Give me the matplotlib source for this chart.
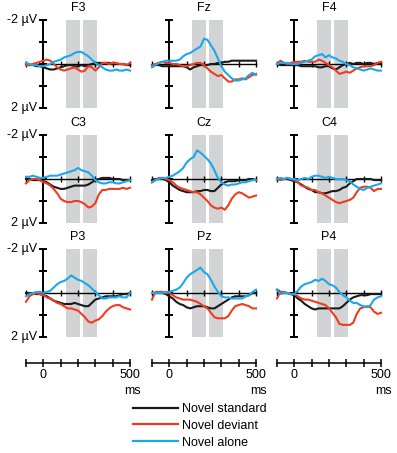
import numpy as np
import matplotlib
matplotlib.use("Agg")
import matplotlib.pyplot as plt

plt.rcParams['font.family'] = ['Liberation Sans', 'DejaVu Sans']
plt.rcParams['font.size'] = 9

# time axis (ms)
times = np.arange(-100, 501, 20)

# amplitudes in microvolts (positive is drawn downward)
f3_std = [0.0, 0.05, 0.05, 0.1, 0.1, 0.15, 0.2, 0.25, 0.25, 0.2, 0.15, 0.1, 0.05, 0.05, 0.1, 0.1,
          0.05, 0.1, 0.05, 0.0, -0.05, -0.05, -0.05, -0.05, -0.05, 0.0, 0.0, 0.0, 0.0, 0.05, 0.05]
f3_dev = [0.05, 0.05, 0.0, -0.05, -0.1, -0.15, -0.2, -0.15, 0.0, 0.15, 0.25, 0.3, 0.25, 0.2, 0.15, 0.25,
          0.35, 0.3, 0.1, 0.15, 0.3, 0.15, -0.05, -0.05, 0.0, -0.05, -0.05, 0.0, 0.0, 0.05, -0.05]
f3_alone = [-0.05, 0.0, 0.05, 0.05, 0.1, 0.1, 0.05, 0.0, -0.1, -0.15, -0.2, -0.3, -0.35, -0.4, -0.5, -0.55,
            -0.55, -0.45, -0.35, -0.2, -0.05, 0.05, 0.15, 0.25, 0.3, 0.3, 0.25, 0.3, 0.3, 0.25, 0.3]

fz_std = [0.05, 0.05, 0.05, 0.1, 0.1, 0.1, 0.1, 0.1, 0.1, 0.1, 0.15, 0.25, 0.15, 0.1, 0.05, 0.05,
          0.05, 0.0, 0.0, -0.05, -0.05, -0.1, -0.1, -0.15, -0.15, -0.15, -0.15, -0.15, -0.15, -0.15, -0.15]
fz_dev = [0.05, 0.0, -0.05, -0.1, -0.05, -0.05, 0.0, 0.0, 0.05, 0.1, 0.1, 0.05, 0.0, -0.05, -0.05, 0.05,
          0.2, 0.35, 0.45, 0.55, 0.5, 0.65, 0.8, 0.8, 0.7, 0.7, 0.65, 0.7, 0.6, 0.5, 0.45]
fz_alone = [0.15, 0.05, -0.05, -0.1, -0.15, -0.15, -0.15, -0.15, -0.2, -0.35, -0.45, -0.5, -0.6, -0.7, -0.8, -1.15,
            -1.1, -0.85, -0.6, -0.25, 0.1, 0.35, 0.5, 0.65, 0.75, 0.75, 0.7, 0.65, 0.5, 0.4, 0.5]

f4_std = [0.0, 0.05, 0.05, 0.05, 0.05, 0.05, 0.05, 0.1, 0.1, 0.1, 0.1, 0.1, 0.15, 0.15, 0.1, 0.1,
          0.2, 0.25, 0.15, 0.05, 0.0, -0.05, 0.0, -0.05, -0.05, 0.0, -0.05, -0.05, 0.0, -0.05, -0.05]
f4_dev = [0.0, -0.15, -0.05, 0.0, -0.05, -0.1, -0.1, -0.1, -0.15, -0.1, -0.1, -0.1, -0.2, -0.15, -0.05, 0.05,
          0.15, 0.3, 0.45, 0.4, 0.35, 0.4, 0.3, 0.2, 0.15, 0.1, 0.1, 0.1, 0.05, -0.05, -0.1]
f4_alone = [0.0, -0.05, -0.05, -0.05, 0.0, 0.0, 0.0, -0.05, -0.1, -0.15, -0.2, -0.35, -0.4, -0.45, -0.3, -0.4,
            -0.3, -0.25, -0.15, -0.1, 0.0, 0.05, 0.15, 0.2, 0.25, 0.3, 0.25, 0.2, 0.25, 0.3, 0.3]

c3_std = [0.0, 0.0, 0.05, 0.05, 0.05, 0.1, 0.15, 0.25, 0.35, 0.4, 0.45, 0.45, 0.4, 0.35, 0.3, 0.3,
          0.3, 0.3, 0.25, 0.15, 0.05, 0.0, -0.05, -0.05, -0.05, 0.0, 0.0, 0.0, 0.05, 0.05, 0.05]
c3_dev = [0.2, 0.05, 0.0, 0.0, 0.05, 0.15, 0.2, 0.3, 0.45, 0.65, 0.9, 1.0, 1.05, 1.05, 1.0, 1.0,
          1.05, 1.15, 1.3, 1.25, 1.1, 0.7, 0.5, 0.5, 0.45, 0.45, 0.45, 0.45, 0.4, 0.45, 0.4]
c3_alone = [-0.1, -0.1, -0.15, -0.1, -0.05, -0.05, -0.1, -0.15, -0.15, -0.15, -0.2, -0.25, -0.3, -0.35, -0.4, -0.5,
            -0.4, -0.35, -0.3, -0.15, 0.05, 0.15, 0.2, 0.2, 0.15, 0.15, 0.2, 0.2, 0.15, 0.1, 0.05]

cz_std = [0.05, 0.0, 0.0, 0.0, 0.05, 0.15, 0.3, 0.4, 0.5, 0.55, 0.6, 0.6, 0.6, 0.55, 0.55, 0.5,
          0.5, 0.55, 0.55, 0.4, 0.25, 0.15, 0.1, 0.1, 0.1, 0.05, 0.05, 0.05, 0.0, 0.0, 0.05]
cz_dev = [0.15, 0.05, -0.05, -0.05, 0.0, 0.05, 0.15, 0.3, 0.4, 0.45, 0.5, 0.55, 0.6, 0.6, 0.7, 0.85,
          1.0, 1.2, 1.3, 1.35, 1.3, 1.4, 1.2, 0.9, 0.7, 0.6, 0.65, 0.75, 0.85, 0.8, 0.75]
cz_alone = [0.15, 0.05, 0.0, -0.05, -0.05, -0.1, -0.15, -0.25, -0.35, -0.5, -0.75, -0.9, -1.0, -1.3, -1.2, -1.05,
            -0.9, -0.7, -0.4, -0.05, 0.15, 0.25, 0.3, 0.25, 0.25, 0.2, 0.15, 0.15, 0.1, 0.05, 0.05]

c4_std = [0.0, 0.0, 0.0, 0.0, 0.05, 0.1, 0.15, 0.25, 0.35, 0.45, 0.5, 0.6, 0.6, 0.65, 0.65, 0.6,
          0.55, 0.55, 0.5, 0.4, 0.35, 0.2, 0.1, 0.0, 0.0, 0.0, 0.0, 0.0, 0.05, 0.05, 0.05]
c4_dev = [0.0, 0.05, 0.0, -0.05, 0.0, 0.05, 0.15, 0.3, 0.35, 0.4, 0.5, 0.5, 0.6, 0.65, 0.75, 0.85,
          0.95, 1.05, 1.1, 1.05, 1.0, 0.95, 0.85, 0.6, 0.4, 0.35, 0.35, 0.4, 0.55, 0.45, 0.45]
c4_alone = [0.0, -0.05, 0.0, -0.05, 0.0, 0.0, 0.05, 0.0, -0.05, 0.0, -0.1, -0.15, -0.15, -0.1, -0.05, -0.1,
            -0.05, 0.0, 0.0, 0.0, 0.05, 0.1, 0.25, 0.35, 0.45, 0.5, 0.4, 0.35, 0.3, 0.25, 0.2]

p3_std = [0.0, 0.0, 0.0, 0.05, 0.05, 0.1, 0.15, 0.25, 0.35, 0.4, 0.45, 0.5, 0.5, 0.5, 0.45, 0.5,
          0.55, 0.6, 0.6, 0.45, 0.3, 0.25, 0.2, 0.15, 0.15, 0.15, 0.15, 0.1, 0.05, 0.05, 0.0]
p3_dev = [0.4, 0.15, 0.05, 0.0, 0.05, 0.1, 0.2, 0.25, 0.35, 0.45, 0.5, 0.6, 0.7, 0.7, 0.75, 0.8,
          0.95, 1.1, 1.3, 1.35, 1.25, 1.2, 1.05, 0.85, 0.7, 0.6, 0.55, 0.55, 0.65, 0.7, 0.75]
p3_alone = [0.15, 0.05, 0.0, -0.05, -0.05, 0.0, -0.05, -0.1, -0.25, -0.4, -0.5, -0.55, -0.65, -0.8, -0.7, -0.6,
            -0.55, -0.45, -0.35, -0.2, -0.05, 0.1, 0.25, 0.25, 0.2, 0.2, 0.2, 0.15, 0.2, 0.2, 0.0]

pz_std = [0.0, 0.0, 0.0, 0.0, 0.05, 0.15, 0.25, 0.4, 0.5, 0.55, 0.65, 0.7, 0.65, 0.6, 0.6, 0.6,
          0.65, 0.7, 0.7, 0.6, 0.5, 0.4, 0.3, 0.2, 0.15, 0.15, 0.15, 0.15, 0.1, 0.0, 0.0]
pz_dev = [0.3, -0.05, -0.05, -0.05, 0.0, 0.0, 0.1, 0.2, 0.25, 0.3, 0.3, 0.3, 0.35, 0.4, 0.5, 0.6,
          0.7, 0.9, 1.1, 1.15, 1.15, 1.15, 1.05, 0.8, 0.6, 0.55, 0.5, 0.55, 0.6, 0.7, 0.7]
pz_alone = [0.0, 0.0, 0.0, 0.0, -0.05, -0.05, -0.1, -0.15, -0.25, -0.45, -0.7, -0.85, -0.95, -1.05, -1.15, -0.95,
            -0.85, -0.6, -0.3, -0.05, 0.15, 0.2, 0.2, 0.25, 0.25, 0.25, 0.25, 0.15, 0.1, -0.05, -0.15]

p4_std = [-0.15, -0.05, 0.0, 0.0, 0.05, 0.1, 0.25, 0.35, 0.5, 0.6, 0.7, 0.75, 0.7, 0.7, 0.7, 0.7,
          0.7, 0.7, 0.7, 0.6, 0.45, 0.3, 0.2, 0.15, 0.1, 0.1, 0.1, 0.05, 0.05, 0.05, 0.05]
p4_dev = [0.25, -0.05, -0.05, 0.0, 0.05, 0.05, 0.15, 0.25, 0.3, 0.3, 0.35, 0.4, 0.45, 0.5, 0.55, 0.7,
          0.9, 1.1, 1.4, 1.45, 1.45, 1.45, 1.35, 0.95, 0.7, 0.65, 0.6, 0.65, 0.85, 0.95, 0.9]
p4_alone = [-0.15, 0.05, 0.0, 0.0, 0.05, 0.05, -0.1, -0.3, -0.4, -0.45, -0.5, -0.6, -0.55, -0.65, -0.55, -0.4,
            -0.35, -0.25, -0.05, 0.1, 0.2, 0.35, 0.45, 0.45, 0.55, 0.6, 0.65, 0.55, 0.3, 0.2, 0.15]

channels = [
    ['F3', 'Fz', 'F4'],
    ['C3', 'Cz', 'C4'],
    ['P3', 'Pz', 'P4'],
]
waves = {
    'F3': (f3_std, f3_dev, f3_alone), 'Fz': (fz_std, fz_dev, fz_alone), 'F4': (f4_std, f4_dev, f4_alone),
    'C3': (c3_std, c3_dev, c3_alone), 'Cz': (cz_std, cz_dev, cz_alone), 'C4': (c4_std, c4_dev, c4_alone),
    'P3': (p3_std, p3_dev, p3_alone), 'Pz': (pz_std, pz_dev, pz_alone), 'P4': (p4_std, p4_dev, p4_alone),
}
cond_labels = ['Novel standard', 'Novel deviant', 'Novel alone']
cond_colors = ['#1a1a1a', '#f03c1e', '#1aa8ec']
windows = [(130, 210), (230, 310)]

W, H = 397, 453
fig = plt.figure(figsize=(W / 100, H / 100), dpi=100)

col_left = [26, 152, 277]
row_top = [20, 135, 249]
pw, ph = 104, 88

for r, row in enumerate(channels):
    for c, name in enumerate(row):
        ax = fig.add_axes([col_left[c] / W, 1 - (row_top[r] + ph) / H, pw / W, ph / H])
        ax.set_xlim(-100, 500)
        ax.set_ylim(2, -2)
        ax.axis('off')
        for a, b in windows:
            ax.axvspan(a, b, ymin=0, ymax=1, color='#d2d3d5', lw=0, zorder=0)
        # zero line with small ticks
        ax.plot([-100, 500], [0, 0], color='black', lw=1.0, zorder=2, clip_on=False)
        ax.plot(np.arange(-100, 501, 100), np.zeros(7), ls='none', marker='|',
                ms=4, mew=1.0, color='black', zorder=2, clip_on=False)
        # vertical amplitude axis
        ax.plot([0, 0], [-2, 2], color='black', lw=1.4, zorder=2, clip_on=False)
        ax.plot(np.zeros(5), [-2, -1, 0, 1, 2], ls='none', marker='_',
                ms=6, mew=1.4, color='black', zorder=2, clip_on=False)
        for vals, col in zip(waves[name], cond_colors):
            ax.plot(times, vals, color=col, lw=1.5, zorder=3, clip_on=False)
        ax.annotate(name, xy=(200, -2), xytext=(0, 8.5), textcoords='offset points',
                    ha='center', va='center')
        if c == 0:
            ax.annotate('-2 µV', xy=(0, -2), xytext=(-4.5, 0), textcoords='offset points',
                        ha='right', va='center')
            ax.annotate('2 µV', xy=(0, 2), xytext=(-4.5, 0), textcoords='offset points',
                        ha='right', va='center')

# time scale bars
for c in range(3):
    tax = fig.add_axes([col_left[c] / W, 1 - 368 / H, pw / W, 10 / H])
    tax.set_xlim(-100, 500)
    tax.set_ylim(-1, 1)
    tax.axis('off')
    tax.plot([-100, 500], [0, 0], color='black', lw=1.1, clip_on=False)
    tax.plot(np.arange(-100, 501, 100), np.zeros(7), ls='none', marker='|',
             ms=6, mew=1.1, color='black', clip_on=False)
    tax.annotate('0', xy=(0, 0), xytext=(0, -9), textcoords='offset points', ha='center', va='center')
    tax.annotate('500', xy=(500, 0), xytext=(0, -9), textcoords='offset points', ha='center', va='center')
    tax.annotate('ms', xy=(500, 0), xytext=(2, -20), textcoords='offset points', ha='center', va='center')

handles = [plt.Line2D([], [], color=col, lw=1.6) for col in cond_colors]
fig.legend(handles, cond_labels, loc='upper left', bbox_to_anchor=(133 / W, 1 - 403 / H),
           frameon=False, borderpad=0, borderaxespad=0, handlelength=3.6,
           handletextpad=0.3, labelspacing=0.38)

fig.savefig('out.png', dpi=100)
